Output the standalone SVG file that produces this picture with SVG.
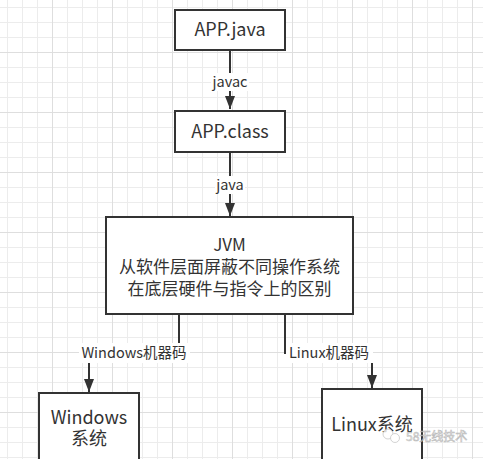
<svg xmlns="http://www.w3.org/2000/svg" width="483" height="459" viewBox="0 0 483 459">
<defs>
<pattern id="minor" x="7" y="7" width="15" height="15" patternUnits="userSpaceOnUse">
<path d="M0 0.5H15M0.5 0V15" fill="none" stroke="#ececec" stroke-width="1"/>
</pattern>
<pattern id="major" x="52" y="52" width="60" height="60" patternUnits="userSpaceOnUse">
<path d="M0 0.5H60M0.5 0V60" fill="none" stroke="#dedede" stroke-width="1"/>
</pattern>
<marker id="arr" viewBox="0 0 13 10" refX="13" refY="5" markerWidth="6.5" markerHeight="5" orient="auto" markerUnits="strokeWidth">
<path d="M0 0L13 5L0 10Z" fill="#333"/>
</marker>
</defs>
<style>
.box{fill:#fff;stroke:#333;stroke-width:2}
.t{font-family:"Noto Sans CJK SC","Noto Sans",sans-serif;fill:#333;text-anchor:middle}
.bt{font-size:18px}
.lt{font-size:14.5px}
.edge{fill:none;stroke:#333;stroke-width:2}
.lbg{fill:#fff}
</style>
<rect width="483" height="459" fill="#fff"/>
<rect width="483" height="459" fill="url(#minor)"/>
<rect width="483" height="459" fill="url(#major)"/>
<g id="connectors">
<path class="edge" d="M230 50V109" marker-end="url(#arr)"/>
<rect class="lbg" x="211" y="73" width="38" height="18"/>
<text class="t lt" x="230" y="87">javac</text>
<path class="edge" d="M230 152V216" marker-end="url(#arr)"/>
<rect class="lbg" x="215" y="176" width="30" height="18"/>
<text class="t lt" x="230" y="190">java</text>
<path class="edge" d="M179 314V353H89V392" marker-end="url(#arr)"/>
<rect class="lbg" x="79" y="343" width="111" height="20"/>
<text class="t lt" x="134" y="358">Windows机器码</text>
<path class="edge" d="M285 314V353H372V388" marker-end="url(#arr)"/>
<rect class="lbg" x="286" y="343" width="87" height="20"/>
<text class="t lt" x="329" y="358">Linux机器码</text>
</g>
<g id="app-java">
<rect class="box" x="175" y="10" width="110" height="40"/>
<text class="t bt" x="230" y="36">APP.java</text>
</g>
<g id="app-class">
<rect class="box" x="175" y="111" width="110" height="41"/>
<text class="t bt" x="230" y="138">APP.class</text>
</g>
<g id="jvm">
<rect class="box" x="106" y="217" width="247" height="97"/>
<text class="t" font-size="17" x="229.5" y="251">JVM</text>
<text class="t" font-size="17" x="229.5" y="273">从软件层面屏蔽不同操作系统</text>
<text class="t" font-size="17" x="229.5" y="295">在底层硬件与指令上的区别</text>
</g>
<g id="windows">
<rect class="box" x="39" y="393" width="100" height="80"/>
<text class="t bt" x="89" y="424">Windows</text>
<text class="t bt" x="89" y="445">系统</text>
</g>
<g id="linux">
<rect class="box" x="322" y="389" width="100" height="84"/>
<text class="t bt" x="372" y="431">Linux系统</text>
</g>
<g id="watermark" opacity="0.8">
<circle cx="388" cy="434" r="5" fill="#fff" stroke="#bbb" stroke-width="0.8"/>
<circle cx="395" cy="438" r="4.5" fill="#fff" stroke="#bbb" stroke-width="0.8"/>
<text x="406" y="441" font-family="'Noto Sans CJK SC',sans-serif" font-size="12" fill="#fff" stroke="#aaa" stroke-width="0.6">58无线技术</text>
</g>
</svg>
